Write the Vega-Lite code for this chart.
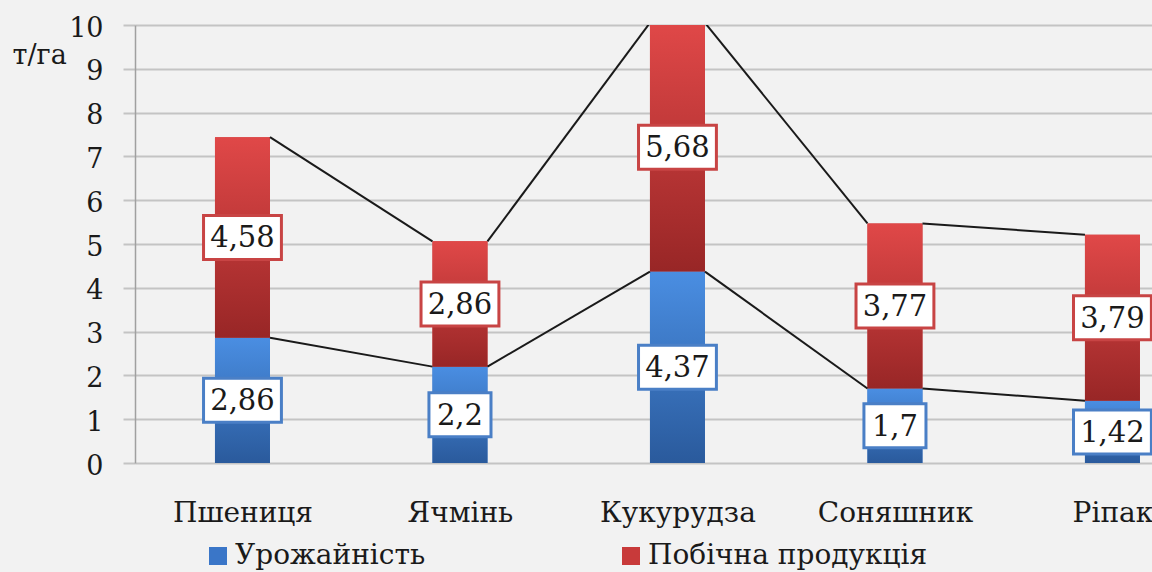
{
  "$schema": "https://vega.github.io/schema/vega-lite/v6.json",
  "width": 1017,
  "height": 438,
  "autosize": {"type": "none"},
  "padding": {"left": 135, "top": 25, "right": 0, "bottom": 109},
  "background": "#f2f2f2",
  "datasets": {
    "bars": [
      {"crop": "Пшениця", "series": "Урожайність", "ord": 1, "value": 2.86, "label": "2,86"},
      {"crop": "Пшениця", "series": "Побічна продукція", "ord": 2, "value": 4.58, "label": "4,58"},
      {"crop": "Ячмінь", "series": "Урожайність", "ord": 1, "value": 2.2, "label": "2,2"},
      {"crop": "Ячмінь", "series": "Побічна продукція", "ord": 2, "value": 2.86, "label": "2,86"},
      {"crop": "Кукурудза", "series": "Урожайність", "ord": 1, "value": 4.37, "label": "4,37"},
      {"crop": "Кукурудза", "series": "Побічна продукція", "ord": 2, "value": 5.68, "label": "5,68"},
      {"crop": "Соняшник", "series": "Урожайність", "ord": 1, "value": 1.7, "label": "1,7"},
      {"crop": "Соняшник", "series": "Побічна продукція", "ord": 2, "value": 3.77, "label": "3,77"},
      {"crop": "Ріпак", "series": "Урожайність", "ord": 1, "value": 1.42, "label": "1,42"},
      {"crop": "Ріпак", "series": "Побічна продукція", "ord": 2, "value": 3.79, "label": "3,79"}
    ],
    "seg": [
      {"from": "Пшениця", "to": "Ячмінь", "v1": 2.86, "v2": 2.2},
      {"from": "Ячмінь", "to": "Кукурудза", "v1": 2.2, "v2": 4.37},
      {"from": "Кукурудза", "to": "Соняшник", "v1": 4.37, "v2": 1.7},
      {"from": "Соняшник", "to": "Ріпак", "v1": 1.7, "v2": 1.42},
      {"from": "Пшениця", "to": "Ячмінь", "v1": 7.44, "v2": 5.06},
      {"from": "Ячмінь", "to": "Кукурудза", "v1": 5.06, "v2": 10.05},
      {"from": "Кукурудза", "to": "Соняшник", "v1": 10.05, "v2": 5.47},
      {"from": "Соняшник", "to": "Ріпак", "v1": 5.47, "v2": 5.21}
    ]
  },
  "layer": [
    {
      "data": {"name": "bars"},
      "mark": {"type": "bar", "width": 55, "clip": true},
      "encoding": {
        "x": {
          "field": "crop", "type": "nominal", "title": null,
          "scale": {"type": "point", "domain": ["Пшениця", "Ячмінь", "Кукурудза", "Соняшник", "Ріпак"], "padding": 0.338, "align": 0.731},
          "axis": {"labelFont": "DejaVu Serif", "labelFontSize": 28, "labelColor": "#1a1a1a", "labelPadding": 36, "domain": false, "ticks": false, "grid": false, "labelAngle": 0}
        },
        "y": {
          "field": "value", "type": "quantitative", "stack": "zero", "title": "т/га",
          "scale": {"domain": [0, 10], "nice": false, "zero": true},
          "axis": {"values": [0, 1, 2, 3, 4, 5, 6, 7, 8, 9, 10]}
        },
        "color": {
          "field": "series", "type": "nominal",
          "scale": {"domain": ["Урожайність", "Побічна продукція"], "range": ["#3a76c8", "#c83a3a"]},
          "legend": {"orient": "none", "legendX": 69, "legendY": 517, "direction": "horizontal", "title": null, "symbolType": "square", "symbolSize": 324, "symbolStrokeWidth": 0, "labelFont": "DejaVu Serif", "labelFontSize": 28, "labelColor": "#1a1a1a", "columnPadding": 191, "labelOffset": 3, "labelLimit": 0, "padding": 0}
        },
        "order": {"field": "ord", "type": "quantitative"}
      }
    },
    {
      "data": {"name": "bars"},
      "mark": {"type": "bar", "width": 55, "clip": true},
      "encoding": {
        "x": {"field": "crop", "type": "nominal", "title": null},
        "y": {"field": "value", "type": "quantitative", "stack": "zero", "title": "т/га"},
        "detail": {"field": "series"},
        "order": {"field": "ord", "type": "quantitative"},
        "fill": {
          "condition": {"test": "datum.series === 'Урожайність'", "value": {"gradient": "linear", "x1": 0, "y1": 0, "x2": 0, "y2": 1, "stops": [{"offset": 0, "color": "#4a8ee2"}, {"offset": 1, "color": "#2a5a9c"}]}},
          "value": {"gradient": "linear", "x1": 0, "y1": 0, "x2": 0, "y2": 1, "stops": [{"offset": 0, "color": "#e04848"}, {"offset": 1, "color": "#982626"}]}
        }
      }
    },
    {
      "data": {"name": "seg"},
      "mark": {"type": "rule", "color": "#1a1a1a", "strokeWidth": 2, "xOffset": 27.5, "x2Offset": -27.5, "clip": true},
      "encoding": {
        "x": {"field": "from", "type": "nominal", "title": null},
        "x2": {"field": "to"},
        "y": {"field": "v1", "type": "quantitative", "title": "т/га"},
        "y2": {"field": "v2"}
      }
    },
    {
      "data": {"name": "bars"},
      "mark": {"type": "point", "filled": true, "fill": "white", "strokeWidth": 3, "size": 1936, "opacity": 1},
      "encoding": {
        "x": {"field": "crop", "type": "nominal", "title": null},
        "y": {"field": "value", "type": "quantitative", "stack": "zero", "bandPosition": 0.5, "title": "т/га"},
        "detail": {"field": "series"},
        "order": {"field": "ord", "type": "quantitative"},
        "shape": {"condition": {"test": "length(datum.label) < 4", "value": "M-1.41,-1L1.41,-1L1.41,1L-1.41,1Z"}, "value": "M-1.77,-1L1.77,-1L1.77,1L-1.77,1Z"},
        "stroke": {"condition": {"test": "datum.series === 'Урожайність'", "value": "#4a7fc6"}, "value": "#c84444"}
      }
    },
    {
      "data": {"name": "bars"},
      "mark": {"type": "text", "font": "DejaVu Serif", "fontSize": 29, "color": "#1a1a1a", "align": "center", "baseline": "middle", "dy": 1},
      "encoding": {
        "x": {"field": "crop", "type": "nominal", "title": null},
        "y": {"field": "value", "type": "quantitative", "stack": "zero", "bandPosition": 0.5, "title": "т/га"},
        "detail": {"field": "series"},
        "order": {"field": "ord", "type": "quantitative"},
        "text": {"field": "label"}
      }
    }
  ],
  "config": {
    "view": {"stroke": null},
    "axisY": {
      "labelFont": "DejaVu Serif", "labelFontSize": 27, "labelColor": "#1a1a1a", "labelPadding": 20, "labelOffset": 3,
      "tickSize": 12, "tickColor": "#c4c4c4", "tickWidth": 2,
      "grid": true, "gridColor": "#c4c4c4", "gridWidth": 2,
      "domainColor": "#a0a0a0", "domainWidth": 1.5,
      "titleAngle": 0, "titleFont": "DejaVu Serif", "titleFontSize": 27, "titleFontWeight": "normal", "titleColor": "#1a1a1a",
      "titleX": -123, "titleY": 30, "titleAlign": "left", "titleBaseline": "middle"
    }
  }
}
